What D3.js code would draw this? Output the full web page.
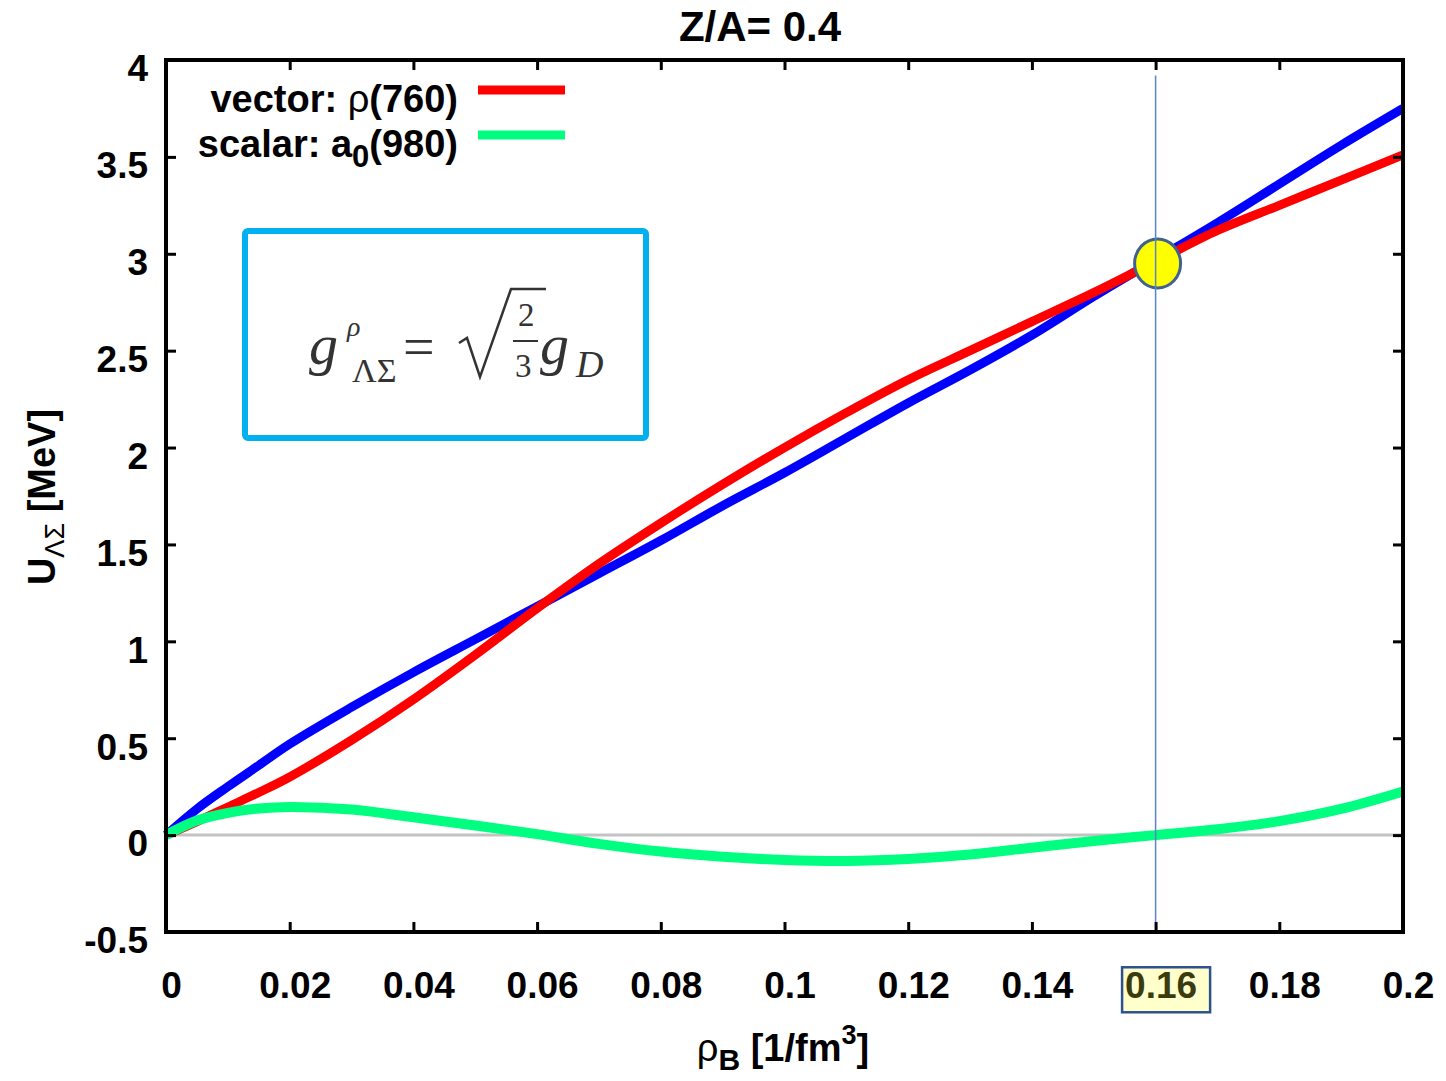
<!DOCTYPE html>
<html>
<head>
<meta charset="utf-8">
<script src="https://cdn.jsdelivr.net/npm/d3@7"></script>
<style>
  html, body { margin: 0; padding: 0; background: #fff; }
  svg { display: block; }
</style>
</head>
<body>
<script>
// Baryon density grid [1/fm^3]
const rhoB = [0, 0.005, 0.01, 0.015, 0.02, 0.03, 0.04, 0.05, 0.06, 0.07, 0.08,
              0.09, 0.10, 0.11, 0.12, 0.13, 0.14, 0.15, 0.16, 0.17, 0.18, 0.19, 0.20];

// U_ΛΣ [MeV] curves
const uTotal  = [0, 0.135, 0.25, 0.36, 0.47, 0.66, 0.84, 1.01, 1.18, 1.35, 1.52,
                 1.70, 1.87, 2.05, 2.23, 2.40, 2.58, 2.78, 2.97, 3.16, 3.36, 3.56, 3.75];
const uVector = [0, 0.07, 0.145, 0.22, 0.30, 0.49, 0.70, 0.93, 1.17, 1.40, 1.61,
                 1.81, 2.00, 2.18, 2.35, 2.50, 2.65, 2.80, 2.96, 3.12, 3.25, 3.38, 3.51];
const uScalar = [0, 0.075, 0.115, 0.137, 0.145, 0.132, 0.092, 0.05, 0.005, -0.045, -0.085,
                 -0.112, -0.128, -0.133, -0.123, -0.10, -0.065, -0.03, 0.0, 0.03, 0.072, 0.135, 0.225];

// Axis ticks
const xTicks = [0, 0.02, 0.04, 0.06, 0.08, 0.1, 0.12, 0.14, 0.16, 0.18, 0.2];
const xTickLabels = ["0", "0.02", "0.04", "0.06", "0.08", "0.1", "0.12", "0.14", "0.16", "0.18", "0.2"];
const yTicks = [-0.5, 0, 0.5, 1, 1.5, 2, 2.5, 3, 3.5, 4];
const yTickLabels = ["-0.5", "0", "0.5", "1", "1.5", "2", "2.5", "3", "3.5", "4"];

// Saturation density marker and crossing point
const rhoSat = 0.16;
const crossing = { rho: 0.16, u: 2.95 };
const highlightTick = 0.16;

const title = "Z/A= 0.4";

const SANS = "'Liberation Sans', Arial, sans-serif";
const SERIF = "'Liberation Serif', 'Times New Roman', serif";

const W = 1446, H = 1081;
const margin = { left: 166, right: 43, top: 60, bottom: 149 };

const svg = d3.select("body").append("svg")
  .attr("width", W).attr("height", H)
  .style("font-family", SANS);

const x = d3.scaleLinear().domain([0, 0.2]).range([margin.left, W - margin.right]);
const y = d3.scaleLinear().domain([-0.5, 4]).range([H - margin.bottom, margin.top]);

// zero reference line
svg.append("line")
  .attr("x1", x(0)).attr("x2", x(0.2))
  .attr("y1", y(0)).attr("y2", y(0))
  .attr("stroke", "#c3c3c3").attr("stroke-width", 3);

const series = [
  { values: uTotal,  color: "#0000ff", width: 9 },
  { values: uVector, color: "#ff0000", width: 9 },
  { values: uScalar, color: "#00ff80", width: 10 }
];

const line = d3.line()
  .x((d, i) => x(rhoB[i]))
  .y(d => y(d))
  .curve(d3.curveCatmullRom);

svg.append("g").selectAll("path")
  .data(series)
  .join("path")
  .attr("d", d => line(d.values))
  .attr("fill", "none")
  .attr("stroke", d => d.color)
  .attr("stroke-width", d => d.width)
  .attr("stroke-linejoin", "round");

// marker at the crossing point
svg.append("ellipse")
  .attr("cx", x(crossing.rho) + 2).attr("cy", y(crossing.u))
  .attr("rx", 23).attr("ry", 24.5)
  .attr("fill", "#ffff00").attr("stroke", "#41618e").attr("stroke-width", 3);

// vertical line at saturation density
svg.append("line")
  .attr("x1", x(rhoSat)).attr("x2", x(rhoSat))
  .attr("y1", y(3.92)).attr("y2", y(-0.5))
  .attr("stroke", "#5a84c4").attr("stroke-width", 1.5);

// axes with inward ticks
const xAxisB = d3.axisBottom(x).tickValues(xTicks).tickSize(-10).tickPadding(40)
  .tickFormat((d, i) => xTickLabels[i]);
const xAxisT = d3.axisTop(x).tickValues(xTicks).tickSize(-10).tickFormat("");
const yAxisL = d3.axisLeft(y).tickValues(yTicks).tickSize(-10).tickPadding(18)
  .tickFormat((d, i) => yTickLabels[i]);
const yAxisR = d3.axisRight(y).tickValues(yTicks).tickSize(-10).tickFormat("");

function styleAxis(g) {
  g.select(".domain").remove();
  g.selectAll(".tick line").attr("stroke", "#000").attr("stroke-width", 3);
  g.selectAll(".tick text")
    .attr("fill", "#000")
    .style("font-family", SANS)
    .style("font-weight", "bold")
    .style("font-size", "37px");
}

const gB = svg.append("g").attr("transform", `translate(0,${y(-0.5)})`).call(xAxisB).call(styleAxis);
gB.selectAll(".tick text").attr("dx", 5);
svg.append("g").attr("transform", `translate(0,${y(4)})`).call(xAxisT).call(styleAxis);
const gL = svg.append("g").attr("transform", `translate(${x(0)},0)`).call(yAxisL).call(styleAxis);
gL.selectAll(".tick text").attr("transform", "translate(0,9)");
svg.append("g").attr("transform", `translate(${x(0.2)},0)`).call(yAxisR).call(styleAxis);

// highlight box behind the 0.16 tick label
gB.selectAll(".tick").filter(d => Math.abs(d - highlightTick) < 1e-9).each(function () {
  const t = d3.select(this).select("text");
  const bb = t.node().getBBox();
  d3.select(this).insert("rect", "text")
    .attr("x", bb.x + 5 - 8).attr("y", bb.y + 2)
    .attr("width", bb.width + 16).attr("height", bb.height + 4)
    .attr("fill", "#ffffcc").attr("stroke", "#2f528f").attr("stroke-width", 2.5);
  t.attr("fill", "#3b3b10");
});

// plot frame
svg.append("rect")
  .attr("x", x(0)).attr("y", y(4))
  .attr("width", x(0.2) - x(0)).attr("height", y(-0.5) - y(4))
  .attr("fill", "none").attr("stroke", "#000").attr("stroke-width", 4);

// title
svg.append("text")
  .attr("x", 760).attr("y", 41)
  .attr("text-anchor", "middle")
  .style("font-weight", "bold").style("font-size", "42px")
  .text(title);

// legend
const legend = svg.append("g");
const legendRows = [
  { y: 112, color: "#ff0000", parts: [["vector: ", "bold", 0], ["ρ", "normal", 0], ["(760)", "bold", 0]] },
  { y: 157, color: "#00ff80", parts: [["scalar: a", "bold", 0], ["0", "bold", 1], ["(980)", "bold", 0]] }
];
legendRows.forEach(row => {
  const t = legend.append("text")
    .attr("x", 458).attr("y", row.y)
    .attr("text-anchor", "end")
    .style("font-size", "38px");
  row.parts.forEach(p => {
    const ts = t.append("tspan").style("font-weight", p[1]).text(p[0]);
    if (p[2] === 1) ts.attr("dy", 10).style("font-size", "31px");
    else if (p[0] === "(980)") ts.attr("dy", -10);
  });
  legend.append("line")
    .attr("x1", 478).attr("x2", 565)
    .attr("y1", row.y - 22).attr("y2", row.y - 22)
    .attr("stroke", row.color).attr("stroke-width", 9);
});

// coupling relation box
svg.append("rect")
  .attr("x", 245).attr("y", 231).attr("width", 401).attr("height", 207)
  .attr("rx", 3)
  .attr("fill", "#fff").attr("stroke", "#00b0f0").attr("stroke-width", 6);

const f = svg.append("g").attr("fill", "#333");
function ftext(xp, yp, size, italic, s) {
  return f.append("text").attr("x", xp).attr("y", yp)
    .style("font-family", SERIF)
    .style("font-size", size + "px")
    .style("font-style", italic ? "italic" : "normal")
    .text(s);
}
ftext(309, 364, 58, true, "g");
ftext(347, 336, 28, true, "ρ");
ftext(352, 382, 34, false, "ΛΣ");
ftext(403, 366, 56, false, "=");
f.append("path")
  .attr("d", "M459,343 L467,338 L480,377 L511,289 L546,289")
  .attr("fill", "none").attr("stroke", "#333").attr("stroke-width", 2.5).attr("stroke-linejoin", "miter");
ftext(518, 326, 33, false, "2");
f.append("line").attr("x1", 513).attr("x2", 538).attr("y1", 341).attr("y2", 341)
  .attr("stroke", "#333").attr("stroke-width", 2);
ftext(515, 377, 33, false, "3");
ftext(540, 364, 58, true, "g");
ftext(576, 377, 38, true, "D");

// axis titles
const xt = svg.append("text")
  .attr("x", 783).attr("y", 1061)
  .attr("text-anchor", "middle")
  .style("font-size", "38px");
xt.append("tspan").text("ρ");
xt.append("tspan").attr("dy", 9).style("font-weight", "bold").style("font-size", "30px").text("B");
xt.append("tspan").attr("dy", -9).style("font-weight", "bold").text(" [1/fm");
xt.append("tspan").attr("dy", -17).style("font-weight", "bold").style("font-size", "27px").text("3");
xt.append("tspan").attr("dy", 17).style("font-weight", "bold").text("]");

const yt = svg.append("text")
  .attr("transform", "translate(55,497) rotate(-90)")
  .attr("text-anchor", "middle")
  .style("font-size", "38px");
yt.append("tspan").style("font-weight", "bold").text("U");
yt.append("tspan").attr("dy", 9).style("font-size", "27px").text("ΛΣ");
yt.append("tspan").attr("dy", -9).style("font-weight", "bold").text(" [MeV]");
</script>
</body>
</html>
